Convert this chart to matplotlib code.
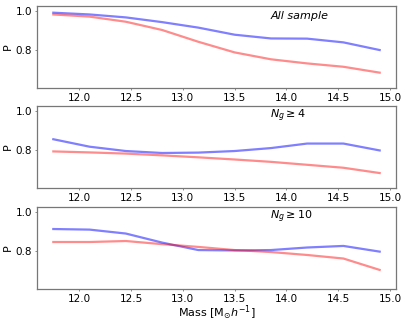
import matplotlib
matplotlib.use("Agg")
import matplotlib.pyplot as plt

mass = [11.75, 12.1, 12.45, 12.8, 13.15, 13.5, 13.85, 14.2, 14.55, 14.9]

blue_all = [0.99, 0.981, 0.966, 0.942, 0.914, 0.878, 0.859, 0.858, 0.839, 0.800]
red_all = [0.981, 0.970, 0.944, 0.902, 0.842, 0.788, 0.753, 0.732, 0.715, 0.685]

blue_ng4 = [0.855, 0.817, 0.795, 0.785, 0.787, 0.795, 0.810, 0.833, 0.833, 0.798]
red_ng4 = [0.793, 0.788, 0.782, 0.773, 0.763, 0.752, 0.740, 0.725, 0.710, 0.683]

blue_ng10 = [0.912, 0.909, 0.889, 0.843, 0.805, 0.803, 0.805, 0.818, 0.826, 0.797]
red_ng10 = [0.846, 0.846, 0.851, 0.835, 0.821, 0.805, 0.795, 0.780, 0.762, 0.704]

titles = ["All sample", r"$N_g \geq 4$", r"$N_g \geq 10$"]
blues = [blue_all, blue_ng4, blue_ng10]
reds = [red_all, red_ng4, red_ng10]

fig = plt.figure(figsize=(4.07, 3.23), dpi=100)
bottoms = [1 - 88 / 323, 1 - 188 / 323, 1 - 289 / 323]
left = 37 / 407
width = (396 - 37) / 407
height = 82 / 323

for i in range(3):
    ax = fig.add_axes([left, bottoms[i], width, height])
    ax.plot(mass, blues[i], color="blue", alpha=0.5, lw=1.6)
    ax.plot(mass, reds[i], color="red", alpha=0.45, lw=1.6)
    ax.set_ylim(0.607, 1.024)
    ax.set_yticks([0.8, 1.0])
    ax.set_xticks([12.0, 12.5, 13.0, 13.5, 14.0, 14.5, 15.0])
    ax.tick_params(labelsize=7.5, length=1.5, width=0.6, color="#777777", pad=2)
    for s in ax.spines.values():
        s.set_color("#777777")
        s.set_linewidth(0.9)
    ax.set_ylabel("P", fontsize=8, labelpad=2)
    if i == 0:
        ax.text(0.65, 0.88, "All sample", transform=ax.transAxes, fontsize=8,
                style="italic", va="center")
    else:
        ax.text(0.65, 0.88, titles[i], transform=ax.transAxes, fontsize=8,
                va="center", math_fontfamily="dejavusans")
    if i == 2:
        ax.set_xlabel(r"Mass [M$_{\odot}h^{-1}$]", fontsize=8, labelpad=0)

fig.savefig("out.png", dpi=100)
